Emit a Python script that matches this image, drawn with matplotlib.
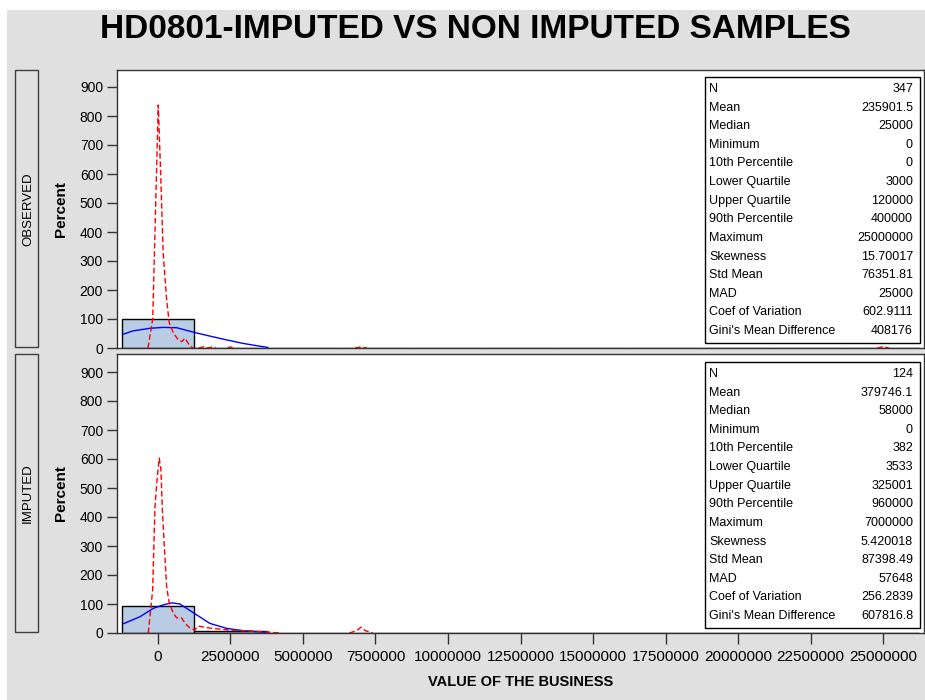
import matplotlib
matplotlib.use("Agg")
import matplotlib.pyplot as plt
from matplotlib.patches import Rectangle

W, H = 925, 700
plt.rcParams['font.family'] = ['Liberation Sans', 'DejaVu Sans']

# ---------------- data ----------------
title = "HD0801-IMPUTED VS NON IMPUTED SAMPLES"
x_label = "VALUE OF THE BUSINESS"
y_label = "Percent"
panel_names = ["OBSERVED", "IMPUTED"]

bin_centers = [0, 2500000, 5000000, 7500000, 10000000, 12500000,
               15000000, 17500000, 20000000, 22500000, 25000000]
observed_pct = [98.5, 1.44, 0, 0.29, 0, 0, 0, 0, 0, 0, 0.29]
imputed_pct = [92.74, 5.65, 0, 1.61, 0, 0, 0, 0, 0, 0, 0]

# fitted normal curves
normal_obs_x = [-1216000, -861000, -275000, 172000, 644000, 1240000,
                1791000, 2366000, 2927000, 3399000, 3788000]
normal_obs_y = [47, 59, 68, 71, 70, 54, 41, 28, 16, 8, 2]
normal_imp_x = [-1216000, -620000, -162000, 183000, 472000, 758000,
                1250000, 1791000, 2366000, 2937000, 3788000]
normal_imp_y = [31, 56, 85, 97, 104, 100, 68, 33, 16, 8, 2]

# kernel density curves
kernel_obs_x = [-344000, -180000, 10000, 93000, 180000, 300000, 390000,
                530000, 700000, 820000, 930000, 1080000, 1200000, 1400000,
                1550000, 1700000, 1850000, 2000000, 2150000, 2400000,
                2500000, 2600000, 6800000, 7000000, 7200000, 24800000,
                25000000, 25200000]
kernel_obs_y = [0, 100, 838, 603, 328, 165, 86, 52, 28, 22, 34, 10, 0, 0,
                4, 0, 3, 0, 0, 0, 4, 0, 0, 4, 0, 0, 5, 0]
kernel_imp_x = [-334000, -183000, -103000, -24000, 45000, 103000, 148000,
                207000, 300000, 389000, 527000, 644000, 816000, 930000,
                1102000, 1274000, 1377000, 1790000, 2480000, 3170000,
                3860000, 4200000, 6600000, 6850000, 7000000, 7150000,
                7400000]
kernel_imp_y = [0, 148, 435, 538, 603, 562, 435, 320, 159, 103, 69, 52, 52,
                34, 17, 10, 24, 17, 10, 7, 3, 0, 0, 8, 20, 8, 0]

stat_labels = ["N", "Mean", "Median", "Minimum", "10th Percentile",
               "Lower Quartile", "Upper Quartile", "90th Percentile",
               "Maximum", "Skewness", "Std Mean", "MAD",
               "Coef of Variation", "Gini's Mean Difference"]
observed_stats = ["347", "235901.5", "25000", "0", "0", "3000", "120000",
                  "400000", "25000000", "15.70017", "76351.81", "25000",
                  "602.9111", "408176"]
imputed_stats = ["124", "379746.1", "58000", "0", "382", "3533", "325001",
                 "960000", "7000000", "5.420018", "87398.49", "57648",
                 "256.2839", "607816.8"]

y_ticks = [0, 100, 200, 300, 400, 500, 600, 700, 800, 900]
x_ticks = bin_centers

# ---------------- styling ----------------
BG = '#E0E0E0'
BAR = '#B8CCE4'


def fx(px):
    return px / W


def fy(py):
    return 1 - py / H


def rect(l, t, r, b):
    return [l / W, 1 - b / H, (r - l) / W, (b - t) / H]


def break_flat(xs, ys):
    """Leave out segments lying flat on the baseline (hidden by the axis)."""
    ox, oy = [xs[0]], [ys[0]]
    for k in range(1, len(xs)):
        if ys[k] == 0 and ys[k - 1] == 0:
            ox.append(float('nan'))
            oy.append(float('nan'))
        ox.append(xs[k])
        oy.append(ys[k])
    return ox, oy


fig = plt.figure(figsize=(W / 100, H / 100), dpi=100)
fig.patch.set_facecolor('white')
fig.add_artist(Rectangle((fx(7), 0), 1 - fx(7), fy(10), transform=fig.transFigure,
                         facecolor=BG, edgecolor='none', zorder=-10))

fig.text(fx(475), fy(30), title, ha='center', va='center', fontsize=24,
         fontweight='bold')

panels = [
    dict(box=(117, 70, 924, 348), pct=observed_pct,
         nx=normal_obs_x, ny=normal_obs_y, kx=kernel_obs_x, ky=kernel_obs_y,
         stats=observed_stats, name=panel_names[0], stat_top=77, stat_bot=343),
    dict(box=(117, 354, 924, 633), pct=imputed_pct,
         nx=normal_imp_x, ny=normal_imp_y, kx=kernel_imp_x, ky=kernel_imp_y,
         stats=imputed_stats, name=panel_names[1], stat_top=362, stat_bot=628),
]

for i, p in enumerate(panels):
    l, t, r, b = p['box']
    ax = fig.add_axes(rect(l, t, r, b))
    ax.set_facecolor('white')
    ax.bar(bin_centers, p['pct'], width=2500000, color=BAR, edgecolor='black',
           linewidth=1, zorder=2)
    ax.plot(p['nx'], p['ny'], color='blue', lw=1, zorder=2.3)
    kx, ky = break_flat(p['kx'], p['ky'])
    ax.plot(kx, ky, color='red', lw=1, dashes=(4, 2), zorder=2.4)
    ax.set_xlim(-1412000, 26410000)
    ax.set_ylim(0, (b - t) / 0.29)
    ax.set_yticks(y_ticks)
    ax.set_yticklabels([str(v) for v in y_ticks])
    ax.tick_params(axis='y', direction='out', length=7, width=1, labelsize=10,
                   pad=3, colors='#333333', labelcolor='black')
    ax.set_xticks(x_ticks)
    if i == 1:
        ax.set_xticklabels([str(v) for v in x_ticks])
        ax.tick_params(axis='x', direction='out', length=8, width=1,
                       labelsize=11, pad=4, colors='#333333', labelcolor='black')
        ax.set_xlabel(x_label, fontsize=10.5, fontweight='bold', labelpad=8)
    else:
        ax.set_xticklabels([])
        ax.tick_params(axis='x', length=0)
    for s in ax.spines.values():
        s.set_color('#333333')
        s.set_linewidth(1)
        s.set_zorder(2.6)
    ax.set_ylabel(y_label, fontsize=11, fontweight='bold')
    ax.yaxis.set_label_coords((68 - l) / (r - l), 0.5)

    # panel name box
    fig.add_artist(Rectangle((fx(15), fy(b - 1)), fx(38) - fx(15),
                             fy(t) - fy(b - 1), transform=fig.transFigure,
                             facecolor=BG, edgecolor='#404040', lw=1))
    fig.text(fx(28), fy((t + b) / 2), p['name'], rotation=90, ha='center',
             va='center', fontsize=9.5)

    # statistics table
    st, sb = p['stat_top'], p['stat_bot']
    fig.add_artist(Rectangle((fx(705), fy(sb)), fx(920) - fx(705),
                             fy(st) - fy(sb), transform=fig.transFigure,
                             facecolor='white', edgecolor='black', lw=1,
                             zorder=5))
    y0 = st + 12
    step = (sb - 12 - y0) / (len(stat_labels) - 1)
    for k, (lab, val) in enumerate(zip(stat_labels, p['stats'])):
        yy = y0 + k * step
        fig.text(fx(709), fy(yy), lab, ha='left', va='center', fontsize=9,
                 zorder=6)
        fig.text(fx(913), fy(yy), val, ha='right', va='center', fontsize=9,
                 zorder=6)

fig.savefig('out.png', dpi=100, facecolor=fig.get_facecolor())
